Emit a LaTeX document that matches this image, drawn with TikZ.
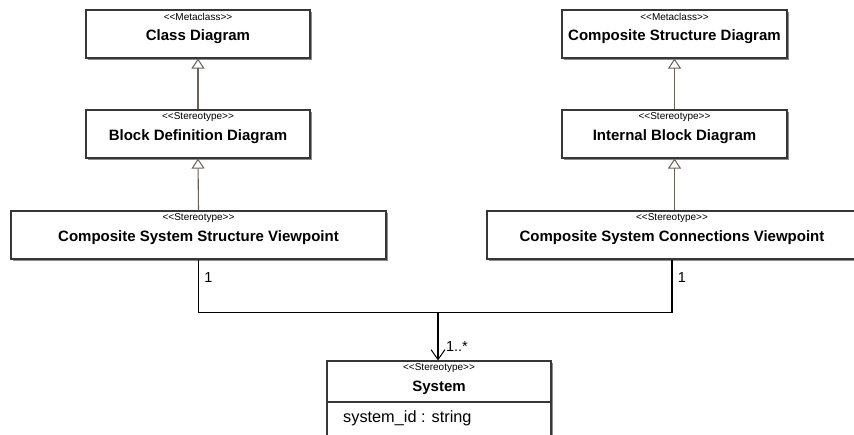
\documentclass[tikz,border=0pt]{standalone}
\usepackage{fontspec}
\setmainfont{Liberation Sans}
\usetikzlibrary{arrows.meta,shadows}
\definecolor{edge}{RGB}{55,55,55}
\definecolor{genline}{RGB}{105,98,88}
\newcommand{\stype}[1]{<{}<#1>{}>}
\tikzset{
  umlbox/.style={draw=edge, line width=1.1pt, fill=white, inner sep=0pt,
    drop shadow={shadow xshift=1.6pt, shadow yshift=-1.6pt, fill=black!45, opacity=1}},
  stereo/.style={font=\fontsize{10}{12}\selectfont, inner sep=0pt},
  title/.style={font=\fontsize{15}{17}\selectfont\bfseries, inner sep=0pt},
  plain/.style={font=\fontsize{14.5}{16}\selectfont, inner sep=0pt},
  gen/.style={draw=genline, line width=1.1pt, -{Triangle[open, length=10pt, width=13pt, line width=1pt]}},
  assoc/.style={draw=black, line width=1.1pt},
  navarrow/.style={draw=black, line width=1.1pt, -{Straight Barb[length=10pt, width=14pt, line width=1pt]}}
}
\begin{document}
\begin{tikzpicture}[x=1pt, y=-1pt]
\useasboundingbox (0,0) rectangle (854,435);
\clip (0,0) rectangle (854,435);

% metaclasses
\node[umlbox, minimum width=224pt, minimum height=48pt] (cd) at (198,34) {};
\node[stereo] (cds) at (198,17) {\stype{Metaclass}};
\node[title] (cdn) at (198,37) {Class Diagram};

\node[umlbox, minimum width=225pt, minimum height=48pt] (csd) at (674.5,34) {};
\node[stereo] (csds) at (674.5,17) {\stype{Metaclass}};
\node[title] (csdn) at (674.5,37) {Composite Structure Diagram};

% stereotyped diagrams
\node[umlbox, minimum width=224pt, minimum height=48pt] (bdd) at (198,134) {};
\node[stereo] (bdds) at (198,117) {\stype{Stereotype}};
\node[title] (bddn) at (198,137) {Block Definition Diagram};

\node[umlbox, minimum width=225pt, minimum height=48pt] (ibd) at (674.5,134) {};
\node[stereo] (ibds) at (674.5,117) {\stype{Stereotype}};
\node[title] (ibdn) at (674.5,137) {Internal Block Diagram};

% viewpoints
\node[umlbox, minimum width=375pt, minimum height=48pt] (cssv) at (198.5,235) {};
\node[stereo] (cssvs) at (198.5,218) {\stype{Stereotype}};
\node[title] (cssvn) at (198.5,238) {Composite System Structure Viewpoint};

\node[umlbox, minimum width=370pt, minimum height=48pt] (cscv) at (672,235) {};
\node[stereo] (cscvs) at (672,218) {\stype{Stereotype}};
\node[title] (cscvn) at (672,238) {Composite System Connections Viewpoint};

% system block
\node[umlbox, minimum width=224pt, minimum height=84pt] (sys) at (439,403) {};
\draw[edge, line width=1.1pt] (sys.west |- 0,402) -- (sys.east |- 0,402);
\node[stereo] (syss) at (439,368) {\stype{Stereotype}};
\node[title] (sysn) at (439,388) {System};
\node[plain, anchor=west, font=\fontsize{16.3}{18}\selectfont] (sysa) at (343,418) {system\_id : string};

% generalizations
\draw[gen] (bdd.north) -- (cd.south);
\draw[gen] (cssv.north) -- (bdd.south);
\draw[gen] (ibd.north) -- (csd.south);
\draw[gen] (cscv.north -| ibd.south) -- (ibd.south);

% association
\coordinate (j) at (438,312.5);
\draw[assoc] (cssv.south) |- (j) -| (cscv.south);
\draw[navarrow] (j) -- (sys.north -| j);
\node[plain] (m1) at (208.5,278) {1};
\node[plain] (m2) at (682,278) {1};
\node[plain] (m3) at (457,347) {1..*};
\end{tikzpicture}
\end{document}
